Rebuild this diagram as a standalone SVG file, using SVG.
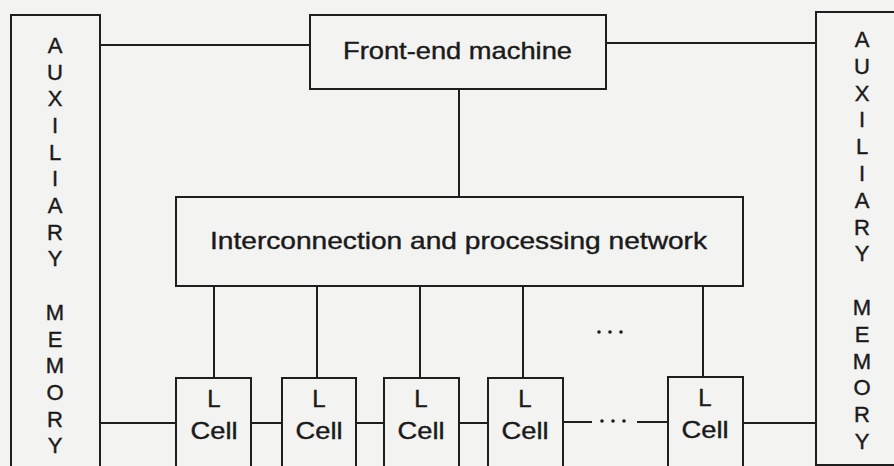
<svg xmlns="http://www.w3.org/2000/svg" width="894" height="466" viewBox="0 0 894 466">
<style>
.box{fill:none;stroke:#1e1e1e;stroke-width:2}
.ln{stroke:#1e1e1e;stroke-width:2;fill:none}
.t{font-family:"Liberation Sans",Arial,sans-serif;font-size:24px;fill:#1a1a1a;stroke:#1a1a1a;stroke-width:0.4}
.v{font-family:"Liberation Sans",Arial,sans-serif;font-size:22px;fill:#1a1a1a;text-anchor:middle;stroke:#1a1a1a;stroke-width:0.4}
.c{font-family:"Liberation Sans",Arial,sans-serif;font-size:24px;fill:#1a1a1a;text-anchor:middle;stroke:#1a1a1a;stroke-width:0.4}
.dot{fill:#1e1e1e}
</style>
<rect x="0" y="0" width="894" height="466" fill="#f3f3f1"/>
<g id="connectors">
<line class="ln" x1="100" y1="45" x2="310" y2="45"/>
<line class="ln" x1="606" y1="43" x2="816" y2="43"/>
<line class="ln" x1="459" y1="89" x2="459" y2="197"/>
<line class="ln" x1="214" y1="286" x2="214" y2="378"/>
<line class="ln" x1="317" y1="286" x2="317" y2="378"/>
<line class="ln" x1="420" y1="286" x2="420" y2="378"/>
<line class="ln" x1="523" y1="286" x2="523" y2="378"/>
<line class="ln" x1="703" y1="286" x2="703" y2="378"/>
<line class="ln" x1="100" y1="423" x2="176" y2="423"/>
<line class="ln" x1="251" y1="423" x2="282" y2="423"/>
<line class="ln" x1="356" y1="423" x2="384" y2="423"/>
<line class="ln" x1="459" y1="423" x2="488" y2="423"/>
<line class="ln" x1="563" y1="422" x2="592" y2="422"/>
<line class="ln" x1="637" y1="422" x2="668" y2="422"/>
<line class="ln" x1="743" y1="423" x2="816" y2="423"/>
<circle class="dot" cx="602" cy="421" r="1.8"/>
<circle class="dot" cx="613" cy="421" r="1.8"/>
<circle class="dot" cx="624" cy="421" r="1.8"/>
<circle class="dot" cx="599" cy="332" r="1.8"/>
<circle class="dot" cx="610" cy="332" r="1.8"/>
<circle class="dot" cx="621" cy="332" r="1.8"/>
</g>
<g id="aux-left">
<rect class="box" x="11" y="15" width="89" height="470"/>
<text class="v" x="55" y="53">A</text>
<text class="v" x="55" y="80">U</text>
<text class="v" x="55" y="106">X</text>
<text class="v" x="55" y="133">I</text>
<text class="v" x="55" y="160">L</text>
<text class="v" x="55" y="186">I</text>
<text class="v" x="55" y="213">A</text>
<text class="v" x="55" y="240">R</text>
<text class="v" x="55" y="266">Y</text>
<text class="v" x="55" y="320">M</text>
<text class="v" x="55" y="347">E</text>
<text class="v" x="55" y="373">M</text>
<text class="v" x="55" y="400">O</text>
<text class="v" x="55" y="427">R</text>
<text class="v" x="55" y="453">Y</text>
</g>
<g id="aux-right">
<rect class="box" x="816" y="12" width="100" height="453"/>
<text class="v" x="862" y="47">A</text>
<text class="v" x="862" y="74">U</text>
<text class="v" x="862" y="101">X</text>
<text class="v" x="862" y="127">I</text>
<text class="v" x="862" y="154">L</text>
<text class="v" x="862" y="181">I</text>
<text class="v" x="862" y="208">A</text>
<text class="v" x="862" y="235">R</text>
<text class="v" x="862" y="261">Y</text>
<text class="v" x="862" y="315">M</text>
<text class="v" x="862" y="342">E</text>
<text class="v" x="862" y="369">M</text>
<text class="v" x="862" y="395">O</text>
<text class="v" x="862" y="422">R</text>
<text class="v" x="862" y="449">Y</text>
</g>
<g id="front-end">
<rect class="box" x="310" y="15" width="296" height="74"/>
<text class="t" x="343" y="59" textLength="229" lengthAdjust="spacingAndGlyphs">Front-end machine</text>
</g>
<g id="network">
<rect class="box" x="176" y="197" width="567" height="89"/>
<text class="t" x="210" y="249" textLength="497" lengthAdjust="spacingAndGlyphs">Interconnection and processing network</text>
</g>
<g id="cell1">
<rect class="box" x="176" y="378" width="75" height="110"/>
<text class="c" x="214" y="407">L</text>
<text class="c" x="214" y="439" textLength="47" lengthAdjust="spacingAndGlyphs">Cell</text>
</g>
<g id="cell2">
<rect class="box" x="282" y="378" width="74" height="110"/>
<text class="c" x="319" y="407">L</text>
<text class="c" x="319" y="439" textLength="47" lengthAdjust="spacingAndGlyphs">Cell</text>
</g>
<g id="cell3">
<rect class="box" x="384" y="378" width="75" height="110"/>
<text class="c" x="421" y="407">L</text>
<text class="c" x="421" y="439" textLength="47" lengthAdjust="spacingAndGlyphs">Cell</text>
</g>
<g id="cell4">
<rect class="box" x="488" y="378" width="75" height="110"/>
<text class="c" x="525" y="407">L</text>
<text class="c" x="525" y="439" textLength="47" lengthAdjust="spacingAndGlyphs">Cell</text>
</g>
<g id="cell5">
<rect class="box" x="668" y="377" width="75" height="110"/>
<text class="c" x="705" y="406">L</text>
<text class="c" x="705" y="438" textLength="47" lengthAdjust="spacingAndGlyphs">Cell</text>
</g>
</svg>
